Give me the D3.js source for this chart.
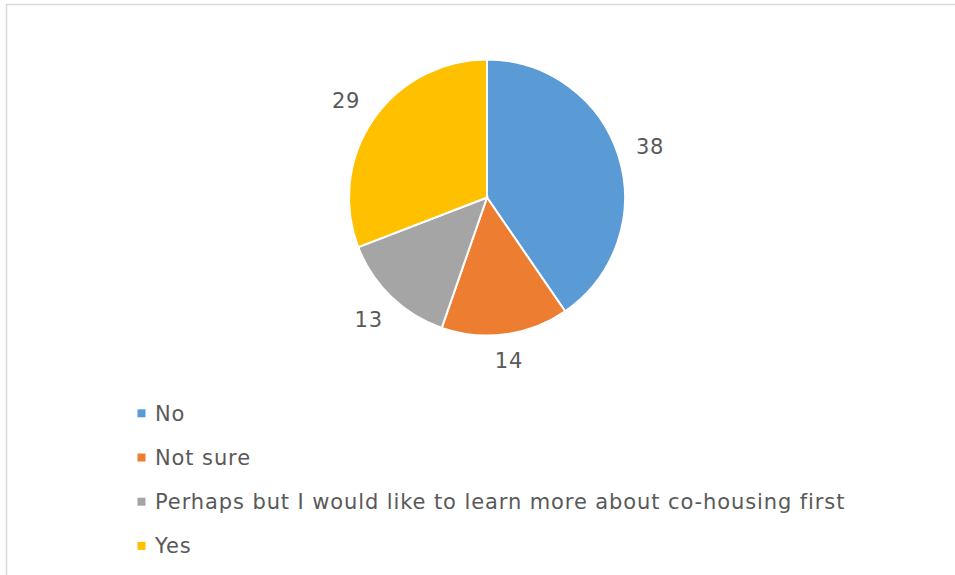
<!DOCTYPE html>
<html>
<head>
<meta charset="utf-8">
<script src="https://cdn.jsdelivr.net/npm/d3@7"></script>
<style>
  html, body { margin: 0; padding: 0; background: #fff; }
  svg { display: block; }
  text { font-family: "Century Gothic", "DejaVu Sans", sans-serif; fill: #595959; }
</style>
</head>
<body>
<svg id="chart" width="955" height="575"></svg>
<script>
// Survey answers and their counts
const categories = ["No", "Not sure", "Perhaps but I would like to learn more about co-housing first", "Yes"];
const counts = [38, 14, 13, 29];
const colors = ["#5b9bd5", "#ed7d31", "#a5a5a5", "#ffc000"];

const svg = d3.select("#chart");

// chart area frame
svg.append("rect")
  .attr("x", 6.5).attr("y", 4.5)
  .attr("width", 1200).attr("height", 1200)
  .attr("fill", "#fff")
  .attr("stroke", "#d9d9d9").attr("stroke-width", 1.5);

const cx = 487, cy = 197.5, radius = 138;
const data = categories.map((c, i) => ({ name: c, value: counts[i], color: colors[i] }));

const pie = d3.pie().value(d => d.value).sort(null);
const arcs = pie(data);
const arc = d3.arc().innerRadius(0).outerRadius(radius);

const g = svg.append("g").attr("transform", `translate(${cx},${cy})`);

g.selectAll("path.slice")
  .data(arcs)
  .join("path")
  .attr("class", "slice")
  .attr("d", arc)
  .attr("fill", d => d.data.color)
  .attr("stroke", "#fff")
  .attr("stroke-width", 2);

// value labels: the label box sits just outside the rim, along each slice's mid-angle
const gap = 17;
const labels = g.selectAll("text.value")
  .data(arcs)
  .join("text")
  .attr("class", "value")
  .attr("text-anchor", "middle")
  .attr("dy", "0.36em")
  .style("font-size", "21px")
  .style("letter-spacing", "0.8px")
  .text(d => d.data.value);

labels.each(function (d) {
  const w = this.getComputedTextLength();
  const h = 15;
  const a = (d.startAngle + d.endAngle) / 2;
  const dx = Math.sin(a), dy = -Math.cos(a);
  const dist = radius + gap + Math.abs(dx) * w / 2 + Math.abs(dy) * h / 2;
  d3.select(this).attr("transform", `translate(${dx * dist},${dy * dist})`);
});

// legend
const legend = svg.append("g").attr("transform", "translate(137.5,413.3)");
const rows = legend.selectAll("g.row")
  .data(data)
  .join("g")
  .attr("class", "row")
  .attr("transform", (d, i) => `translate(0,${i * 44.2})`);

rows.append("rect")
  .attr("x", 0).attr("y", -4)
  .attr("width", 8).attr("height", 8)
  .attr("fill", d => d.color);

rows.append("text")
  .attr("x", 17.5)
  .attr("dy", "0.36em")
  .style("font-size", "21px")
  .style("letter-spacing", "0.9px")
  .text(d => d.name);
</script>
</body>
</html>
